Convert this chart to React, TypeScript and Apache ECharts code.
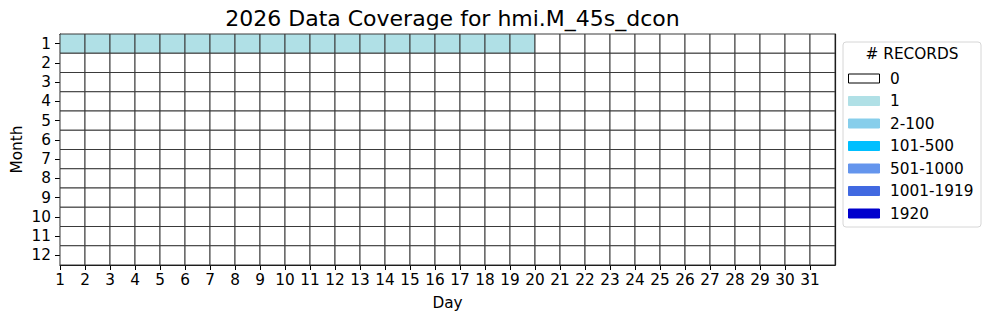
import React, { useEffect, useRef } from "react";
import * as echarts from "echarts";

const TITLE = "2026 Data Coverage for hmi.M_45s_dcon";
const MONTHS = ["1", "2", "3", "4", "5", "6", "7", "8", "9", "10", "11", "12"];
const DAYS = Array.from({ length: 31 }, (_, i) => i + 1);
// records per day for each month (January days 1-19 have 1 record)
const RECORDS: number[][] = [
  [1, 1, 1, 1, 1, 1, 1, 1, 1, 1, 1, 1, 1, 1, 1, 1, 1, 1, 1, 0, 0, 0, 0, 0, 0, 0, 0, 0, 0, 0, 0],
  [0, 0, 0, 0, 0, 0, 0, 0, 0, 0, 0, 0, 0, 0, 0, 0, 0, 0, 0, 0, 0, 0, 0, 0, 0, 0, 0, 0, 0, 0, 0],
  [0, 0, 0, 0, 0, 0, 0, 0, 0, 0, 0, 0, 0, 0, 0, 0, 0, 0, 0, 0, 0, 0, 0, 0, 0, 0, 0, 0, 0, 0, 0],
  [0, 0, 0, 0, 0, 0, 0, 0, 0, 0, 0, 0, 0, 0, 0, 0, 0, 0, 0, 0, 0, 0, 0, 0, 0, 0, 0, 0, 0, 0, 0],
  [0, 0, 0, 0, 0, 0, 0, 0, 0, 0, 0, 0, 0, 0, 0, 0, 0, 0, 0, 0, 0, 0, 0, 0, 0, 0, 0, 0, 0, 0, 0],
  [0, 0, 0, 0, 0, 0, 0, 0, 0, 0, 0, 0, 0, 0, 0, 0, 0, 0, 0, 0, 0, 0, 0, 0, 0, 0, 0, 0, 0, 0, 0],
  [0, 0, 0, 0, 0, 0, 0, 0, 0, 0, 0, 0, 0, 0, 0, 0, 0, 0, 0, 0, 0, 0, 0, 0, 0, 0, 0, 0, 0, 0, 0],
  [0, 0, 0, 0, 0, 0, 0, 0, 0, 0, 0, 0, 0, 0, 0, 0, 0, 0, 0, 0, 0, 0, 0, 0, 0, 0, 0, 0, 0, 0, 0],
  [0, 0, 0, 0, 0, 0, 0, 0, 0, 0, 0, 0, 0, 0, 0, 0, 0, 0, 0, 0, 0, 0, 0, 0, 0, 0, 0, 0, 0, 0, 0],
  [0, 0, 0, 0, 0, 0, 0, 0, 0, 0, 0, 0, 0, 0, 0, 0, 0, 0, 0, 0, 0, 0, 0, 0, 0, 0, 0, 0, 0, 0, 0],
  [0, 0, 0, 0, 0, 0, 0, 0, 0, 0, 0, 0, 0, 0, 0, 0, 0, 0, 0, 0, 0, 0, 0, 0, 0, 0, 0, 0, 0, 0, 0],
  [0, 0, 0, 0, 0, 0, 0, 0, 0, 0, 0, 0, 0, 0, 0, 0, 0, 0, 0, 0, 0, 0, 0, 0, 0, 0, 0, 0, 0, 0, 0],
];
const BIN_LABELS = ["0", "1", "2-100", "101-500", "501-1000", "1001-1919", "1920"];
const BIN_MAX = [0, 1, 100, 500, 1000, 1919, 1920];
const BIN_COLORS = ["#ffffff", "#b0e0e6", "#87ceeb", "#00bfff", "#6495ed", "#4169e1", "#0000cd"];

const FONT = "DejaVu Sans";
const FS = 15.3;

function colorFor(v: number): string {
  for (let i = 0; i < BIN_MAX.length; i++) if (v <= BIN_MAX[i]) return BIN_COLORS[i];
  return BIN_COLORS[BIN_COLORS.length - 1];
}

export default function App() {
  const ref = useRef<HTMLDivElement>(null);
  useEffect(() => {
    if (!ref.current) return;
    const chart = echarts.init(ref.current, undefined, { renderer: "svg" });
    const data: number[][] = [];
    RECORDS.forEach((row, m) => row.forEach((v, d) => data.push([DAYS[d], m, v])));

    const legendX = 843;
    const legendY = 42;
    const rowH = 22.5;
    const legendChildren: any[] = [
      {
        type: "rect",
        shape: { x: legendX, y: legendY, width: 138, height: 185, r: 3 },
        style: { fill: "#ffffff", stroke: "#d6d6d6", lineWidth: 1 },
      },
      {
        type: "text",
        style: {
          x: legendX + 69, y: legendY + 11.5, text: "# RECORDS", fill: "#000",
          font: `${FS}px "${FONT}"`, align: "center", verticalAlign: "middle",
        },
      },
    ];
    BIN_LABELS.forEach((lab, i) => {
      const cy = legendY + 36.5 + i * rowH;
      legendChildren.push({
        type: "rect",
        shape: { x: legendX + 5.5, y: cy - 4.5, width: 31, height: 9 },
        style: { fill: BIN_COLORS[i], stroke: i === 0 ? "#000" : BIN_COLORS[i], lineWidth: 1 },
      });
      legendChildren.push({
        type: "text",
        style: {
          x: legendX + 47, y: cy, text: lab, fill: "#000",
          font: `${FS}px "${FONT}"`, align: "left", verticalAlign: "middle",
        },
      });
    });

    chart.setOption({
      animation: false,
      textStyle: { fontFamily: FONT },
      title: {
        text: TITLE, left: 447.5, top: 2, textAlign: "center",
        textStyle: { fontFamily: FONT, fontSize: 22, fontWeight: "normal", color: "#000" },
      },
      grid: { left: 60, right: 155, top: 34, bottom: 55, outerBoundsMode: "none", containLabel: false },
      xAxis: [
        {
          type: "value", min: 1, max: 32, interval: 1, name: "Day", nameLocation: "middle", nameGap: 30,
          nameMoveOverlap: false,
          nameTextStyle: { fontFamily: FONT, fontSize: FS, color: "#000" },
          axisLine: { show: true, lineStyle: { color: "#000", width: 1.2 } },
          axisTick: { show: true, length: 5, customValues: DAYS, lineStyle: { color: "#000", width: 1 } },
          axisLabel: {
            fontFamily: FONT, fontSize: FS, color: "#000", margin: 7, hideOverlap: false,
            customValues: DAYS,
            formatter: (v: number) => (v >= 32 ? "" : String(v)),
          },
          splitLine: { show: false },
        },
        {
          type: "value", min: 1, max: 32, position: "top",
          axisLine: { show: true, lineStyle: { color: "#000", width: 1.2 } },
          axisTick: { show: false }, axisLabel: { show: false }, splitLine: { show: false },
        },
      ],
      yAxis: [
        {
          type: "category", data: MONTHS, inverse: true, name: "Month", nameLocation: "middle", nameGap: 36,
          nameMoveOverlap: false,
          nameTextStyle: { fontFamily: FONT, fontSize: FS, color: "#000" },
          axisLine: { show: true, lineStyle: { color: "#000", width: 1.2 } },
          axisTick: { show: true, alignWithLabel: true, interval: 0, length: 5, lineStyle: { color: "#000", width: 1 } },
          axisLabel: { fontFamily: FONT, fontSize: FS, color: "#000", margin: 9, interval: 0 },
          splitLine: { show: false },
        },
        {
          type: "category", data: MONTHS, inverse: true, position: "right",
          axisLine: { show: true, lineStyle: { color: "#000", width: 1.2 } },
          axisTick: { show: false }, axisLabel: { show: false }, splitLine: { show: false },
        },
      ],
      series: [
        {
          type: "custom",
          xAxisIndex: 0,
          yAxisIndex: 0,
          data,
          z: 1,
          renderItem: (params: any, api: any) => {
            const d = api.value(0);
            const m = api.value(1);
            const v = api.value(2);
            const p0 = api.coord([d, m]);
            const p1 = api.coord([d + 1, m]);
            const h = api.size([0, 1])[1];
            return {
              type: "rect",
              shape: { x: p0[0], y: p0[1] - h / 2, width: p1[0] - p0[0], height: h },
              style: { fill: colorFor(v), stroke: "#3a3a3a", lineWidth: 1 },
            };
          },
        },
      ],
      graphic: [{ type: "group", children: legendChildren }],
    });
    return () => chart.dispose();
  }, []);
  return <div ref={ref} style={{ position: "absolute", left: 0, top: 0, width: 990, height: 320 }} />;
}
